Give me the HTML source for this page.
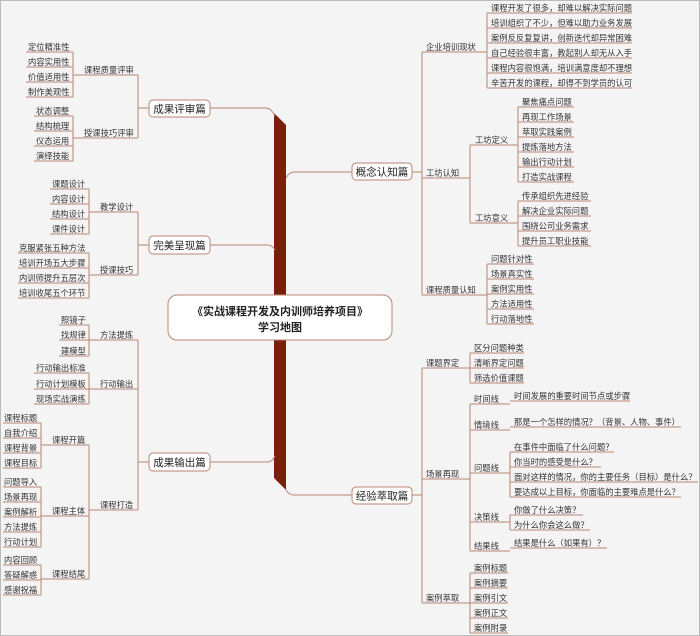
<!DOCTYPE html>
<html><head><meta charset="utf-8"><style>
body{margin:0;background:#f4f4f4}
svg{display:block}
text{font-family:"Liberation Sans","Noto Sans CJK SC",sans-serif;font-size:8.3px;fill:#333}
.n{font-size:10.5px;fill:#222}
.c{font-size:11px;font-weight:bold;fill:#222}
line,path{stroke:#b98672;stroke-width:1;fill:none}
</style></head><body>
<svg width="700" height="636" viewBox="0 0 700 636">
<rect x="0.5" y="0.5" width="699" height="635" fill="#f4f4f4" stroke="#bbb"/>
<polygon points="274,113 286,125 286,490 274,478" fill="#7a1f0a"/>
<path d="M210,108 H266 Q271,108 275,116"/>
<path d="M210,245 H268 Q272,245 275,250"/>
<path d="M210,462 H268 Q272,462 275,456"/>
<path d="M286,178 Q289,172 294,172 H352"/>
<path d="M286,490 Q289,495 294,495 H352"/>
<rect x="168" y="295" width="224" height="45" rx="9" fill="#fff" stroke="#b98672"/>
<text class="c" x="280" y="315" text-anchor="middle">《实战课程开发及内训师培养项目》</text>
<text class="c" x="280" y="331" text-anchor="middle">学习地图</text>
<rect x="149" y="100" width="61" height="17" rx="4" fill="#fff" stroke="#b98672"/><text class="n" x="179.5" y="112.5" text-anchor="middle">成果评审篇</text>
<rect x="149" y="236" width="61" height="18" rx="4" fill="#fff" stroke="#b98672"/><text class="n" x="179.5" y="249" text-anchor="middle">完美呈现篇</text>
<rect x="149" y="453" width="61" height="18" rx="4" fill="#fff" stroke="#b98672"/><text class="n" x="179.5" y="466" text-anchor="middle">成果输出篇</text>
<rect x="352" y="163" width="60" height="17" rx="4" fill="#fff" stroke="#b98672"/><text class="n" x="382" y="175.5" text-anchor="middle">概念认知篇</text>
<rect x="352" y="487" width="60" height="17" rx="4" fill="#fff" stroke="#b98672"/><text class="n" x="382" y="499.5" text-anchor="middle">经验萃取篇</text>

<line x1="138" y1="108" x2="149" y2="108"/><line x1="138" y1="75" x2="138" y2="138"/>
<line x1="73" y1="75" x2="138" y2="75"/><text x="84" y="73">课程质量评审</text>
<line x1="73" y1="138" x2="138" y2="138"/><text x="84" y="136">授课技巧评审</text>
<line x1="73" y1="52" x2="73" y2="97"/>
<line x1="26" y1="52" x2="73" y2="52"/><text x="28" y="50">定位精准性</text>
<line x1="26" y1="67" x2="73" y2="67"/><text x="28" y="65">内容实用性</text>
<line x1="26" y1="82" x2="73" y2="82"/><text x="28" y="80">价值适用性</text>
<line x1="26" y1="97" x2="73" y2="97"/><text x="28" y="95">制作美观性</text>
<line x1="73" y1="116" x2="73" y2="161"/>
<line x1="34" y1="116" x2="73" y2="116"/><text x="36" y="114">状态调整</text>
<line x1="34" y1="131" x2="73" y2="131"/><text x="36" y="129">结构梳理</text>
<line x1="34" y1="146" x2="73" y2="146"/><text x="36" y="144">仪态运用</text>
<line x1="34" y1="161" x2="73" y2="161"/><text x="36" y="159">演绎技能</text>

<line x1="138" y1="245" x2="149" y2="245"/><line x1="138" y1="212" x2="138" y2="275"/>
<line x1="89" y1="212" x2="138" y2="212"/><text x="100" y="210">教学设计</text>
<line x1="89" y1="275" x2="138" y2="275"/><text x="100" y="273">授课技巧</text>
<line x1="89" y1="189" x2="89" y2="234"/>
<line x1="50" y1="189" x2="89" y2="189"/><text x="52" y="187">课题设计</text>
<line x1="50" y1="204" x2="89" y2="204"/><text x="52" y="202">内容设计</text>
<line x1="50" y1="219" x2="89" y2="219"/><text x="52" y="217">结构设计</text>
<line x1="50" y1="234" x2="89" y2="234"/><text x="52" y="232">课件设计</text>
<line x1="89" y1="253" x2="89" y2="298"/>
<line x1="18" y1="253" x2="89" y2="253"/><text x="19" y="251">克服紧张五种方法</text>
<line x1="18" y1="268" x2="89" y2="268"/><text x="19" y="266">培训开场五大步骤</text>
<line x1="18" y1="283" x2="89" y2="283"/><text x="19" y="281">内训师提升五层次</text>
<line x1="18" y1="298" x2="89" y2="298"/><text x="19" y="296">培训收尾五个环节</text>

<line x1="138" y1="462" x2="149" y2="462"/><line x1="138" y1="340" x2="138" y2="510"/>
<line x1="89" y1="340" x2="138" y2="340"/><text x="100" y="338">方法提炼</text>
<line x1="89" y1="389" x2="138" y2="389"/><text x="100" y="387">行动输出</text>
<line x1="89" y1="510" x2="138" y2="510"/><text x="100" y="508">课程打造</text>
<line x1="89" y1="325" x2="89" y2="356"/>
<line x1="59" y1="325" x2="89" y2="325"/><text x="61" y="323">照镜子</text>
<line x1="59" y1="340" x2="89" y2="340"/><text x="61" y="338">找规律</text>
<line x1="59" y1="356" x2="89" y2="356"/><text x="61" y="354">建模型</text>
<line x1="89" y1="373" x2="89" y2="404"/>
<line x1="34" y1="373" x2="89" y2="373"/><text x="36" y="371">行动输出标准</text>
<line x1="34" y1="389" x2="89" y2="389"/><text x="36" y="387">行动计划模板</text>
<line x1="34" y1="404" x2="89" y2="404"/><text x="36" y="402">现场实战演练</text>
<line x1="89" y1="445" x2="89" y2="579"/>
<line x1="41" y1="445" x2="89" y2="445"/><text x="52" y="443">课程开篇</text>
<line x1="41" y1="516" x2="89" y2="516"/><text x="52" y="514">课程主体</text>
<line x1="41" y1="579" x2="89" y2="579"/><text x="52" y="577">课程结尾</text>
<line x1="41" y1="423" x2="41" y2="468"/>
<line x1="3" y1="423" x2="41" y2="423"/><text x="4" y="421">课程标题</text>
<line x1="3" y1="438" x2="41" y2="438"/><text x="4" y="436">自我介绍</text>
<line x1="3" y1="453" x2="41" y2="453"/><text x="4" y="451">课程背景</text>
<line x1="3" y1="468" x2="41" y2="468"/><text x="4" y="466">课程目标</text>
<line x1="41" y1="487" x2="41" y2="547"/>
<line x1="3" y1="487" x2="41" y2="487"/><text x="4" y="485">问题导入</text>
<line x1="3" y1="502" x2="41" y2="502"/><text x="4" y="500">场景再现</text>
<line x1="3" y1="517" x2="41" y2="517"/><text x="4" y="515">案例解析</text>
<line x1="3" y1="532" x2="41" y2="532"/><text x="4" y="530">方法提炼</text>
<line x1="3" y1="547" x2="41" y2="547"/><text x="4" y="545">行动计划</text>
<line x1="41" y1="565" x2="41" y2="595"/>
<line x1="3" y1="565" x2="41" y2="565"/><text x="4" y="563">内容回顾</text>
<line x1="3" y1="580" x2="41" y2="580"/><text x="4" y="578">答疑解惑</text>
<line x1="3" y1="595" x2="41" y2="595"/><text x="4" y="593">感谢祝福</text>

<line x1="412" y1="172" x2="422" y2="172"/><line x1="422" y1="52" x2="422" y2="295"/>
<line x1="422" y1="52" x2="487" y2="52"/><text x="426" y="50">企业培训现状</text>
<line x1="422" y1="178" x2="470" y2="178"/><text x="426" y="176">工坊认知</text>
<line x1="422" y1="295" x2="487" y2="295"/><text x="426" y="293">课程质量认知</text>
<line x1="487" y1="13" x2="487" y2="88"/>
<line x1="487" y1="13" x2="632" y2="13"/><text x="491" y="11">课程开发了很多，却难以解决实际问题</text>
<line x1="487" y1="28" x2="632" y2="28"/><text x="491" y="26">培训组织了不少，但难以助力业务发展</text>
<line x1="487" y1="43" x2="632" y2="43"/><text x="491" y="41">案例反反复复讲，创新迭代却异常困难</text>
<line x1="487" y1="58" x2="632" y2="58"/><text x="491" y="56">自己经验很丰富，教起别人却无从入手</text>
<line x1="487" y1="73" x2="632" y2="73"/><text x="491" y="71">课程内容很饱满，培训满意度却不理想</text>
<line x1="487" y1="88" x2="632" y2="88"/><text x="491" y="86">辛苦开发的课程，却得不到学员的认可</text>
<line x1="470" y1="145" x2="470" y2="223"/>
<line x1="470" y1="145" x2="518" y2="145"/><text x="475" y="143">工坊定义</text>
<line x1="470" y1="223" x2="518" y2="223"/><text x="475" y="221">工坊意义</text>
<line x1="518" y1="107" x2="518" y2="182"/>
<line x1="518" y1="107" x2="574" y2="107"/><text x="522" y="105">聚焦痛点问题</text>
<line x1="518" y1="122" x2="574" y2="122"/><text x="522" y="120">再现工作场景</text>
<line x1="518" y1="137" x2="574" y2="137"/><text x="522" y="135">萃取实践案例</text>
<line x1="518" y1="152" x2="574" y2="152"/><text x="522" y="150">提炼落地方法</text>
<line x1="518" y1="167" x2="574" y2="167"/><text x="522" y="165">输出行动计划</text>
<line x1="518" y1="182" x2="574" y2="182"/><text x="522" y="180">打造实战课程</text>
<line x1="518" y1="201" x2="518" y2="246"/>
<line x1="518" y1="201" x2="591" y2="201"/><text x="522" y="199">传承组织先进经验</text>
<line x1="518" y1="216" x2="591" y2="216"/><text x="522" y="214">解决企业实际问题</text>
<line x1="518" y1="231" x2="591" y2="231"/><text x="522" y="229">围绕公司业务需求</text>
<line x1="518" y1="246" x2="591" y2="246"/><text x="522" y="244">提升员工职业技能</text>
<line x1="487" y1="264" x2="487" y2="324"/>
<line x1="487" y1="264" x2="534" y2="264"/><text x="491" y="262">问题针对性</text>
<line x1="487" y1="279" x2="534" y2="279"/><text x="491" y="277">场景真实性</text>
<line x1="487" y1="294" x2="534" y2="294"/><text x="491" y="292">案例实用性</text>
<line x1="487" y1="309" x2="534" y2="309"/><text x="491" y="307">方法适用性</text>
<line x1="487" y1="324" x2="534" y2="324"/><text x="491" y="322">行动落地性</text>

<line x1="412" y1="495" x2="422" y2="495"/><line x1="422" y1="368" x2="422" y2="603"/>
<line x1="422" y1="368" x2="470" y2="368"/><text x="426" y="366">课题界定</text>
<line x1="422" y1="479" x2="470" y2="479"/><text x="426" y="477">场景再现</text>
<line x1="422" y1="603" x2="470" y2="603"/><text x="426" y="601">案例萃取</text>
<line x1="470" y1="353" x2="470" y2="383"/>
<line x1="470" y1="353" x2="524" y2="353"/><text x="474" y="351">区分问题种类</text>
<line x1="470" y1="368" x2="524" y2="368"/><text x="474" y="366">清晰界定问题</text>
<line x1="470" y1="383" x2="524" y2="383"/><text x="474" y="381">筛选价值课题</text>
<line x1="470" y1="404" x2="470" y2="551"/>
<line x1="470" y1="404" x2="510" y2="404"/><text x="474" y="402">时间线</text>
<line x1="470" y1="430" x2="510" y2="430"/><text x="474" y="428">情境线</text>
<line x1="470" y1="473" x2="510" y2="473"/><text x="474" y="471">问题线</text>
<line x1="470" y1="522" x2="510" y2="522"/><text x="474" y="520">决策线</text>
<line x1="470" y1="551" x2="510" y2="551"/><text x="474" y="549">结果线</text>
<line x1="510" y1="401" x2="630" y2="401"/><text x="514" y="399">时间发展的重要时间节点或步骤</text>
<line x1="510" y1="427" x2="681" y2="427"/><text x="514" y="425">那是一个怎样的情况？（背景、人物、事件）</text>
<line x1="510" y1="452" x2="510" y2="497"/>
<line x1="510" y1="452" x2="614" y2="452"/><text x="514" y="450">在事件中面临了什么问题？</text>
<line x1="510" y1="467" x2="601" y2="467"/><text x="514" y="465">你当时的感受是什么？</text>
<line x1="510" y1="482" x2="698" y2="482"/><text x="514" y="480">面对这样的情况，你的主要任务（目标）是什么？</text>
<line x1="510" y1="497" x2="681" y2="497"/><text x="514" y="495">要达成以上目标，你面临的主要难点是什么？</text>
<line x1="510" y1="515" x2="510" y2="530"/>
<line x1="510" y1="515" x2="583" y2="515"/><text x="514" y="513">你做了什么决策？</text>
<line x1="510" y1="530" x2="590" y2="530"/><text x="514" y="528">为什么你会这么做？</text>
<line x1="510" y1="548" x2="607" y2="548"/><text x="514" y="546">结果是什么（如果有）？</text>
<line x1="470" y1="573" x2="470" y2="633"/>
<line x1="470" y1="573" x2="508" y2="573"/><text x="474" y="571">案例标题</text>
<line x1="470" y1="588" x2="508" y2="588"/><text x="474" y="586">案例摘要</text>
<line x1="470" y1="603" x2="508" y2="603"/><text x="474" y="601">案例引文</text>
<line x1="470" y1="618" x2="508" y2="618"/><text x="474" y="616">案例正文</text>
<line x1="470" y1="633" x2="508" y2="633"/><text x="474" y="631">案例附录</text>
</svg>
</body></html>
